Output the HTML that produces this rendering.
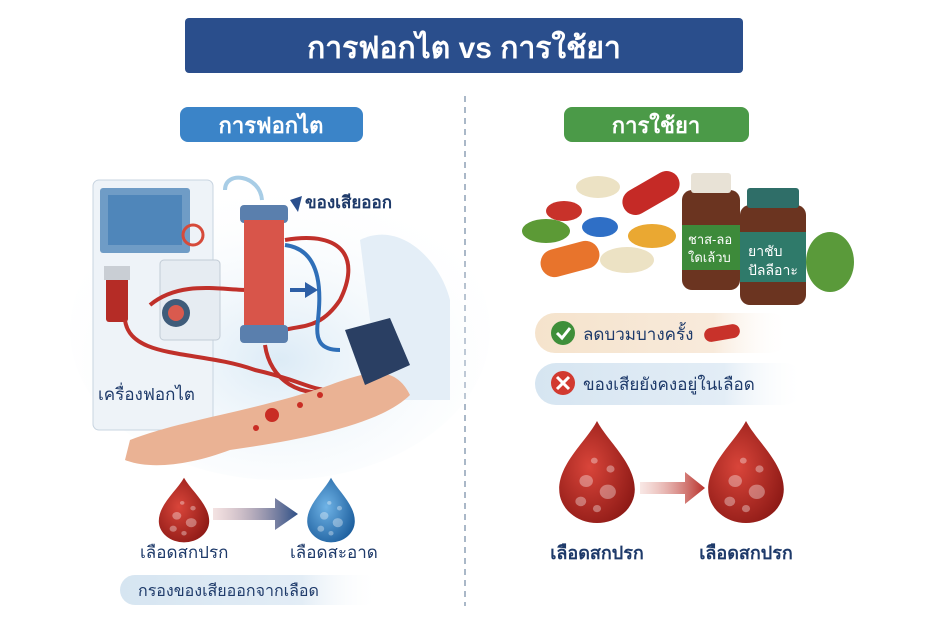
<!DOCTYPE html>
<html><head><meta charset="utf-8"><style>
html,body{margin:0;padding:0;background:#fff;}
svg{display:block;font-family:"Liberation Sans","DejaVu Sans",sans-serif;}
</style></head><body>
<svg width="930" height="620" viewBox="0 0 930 620" xmlns="http://www.w3.org/2000/svg">
<defs>
<radialGradient id="rd" cx="40%" cy="45%" r="65%"><stop offset="0" stop-color="#d9453a"/><stop offset="1" stop-color="#8e1a16"/></radialGradient>
<radialGradient id="bd" cx="40%" cy="45%" r="65%"><stop offset="0" stop-color="#6fb3e6"/><stop offset="1" stop-color="#1d5f9e"/></radialGradient>
<linearGradient id="arL" x1="0" x2="1"><stop offset="0" stop-color="#d9a0a0" stop-opacity=".3"/><stop offset="1" stop-color="#2d4f86"/></linearGradient>
<linearGradient id="arR" x1="0" x2="1"><stop offset="0" stop-color="#e8b0a8" stop-opacity=".3"/><stop offset="1" stop-color="#b8302a"/></linearGradient>
<linearGradient id="beige" x1="0" x2="1"><stop offset="0" stop-color="#f5e3cc"/><stop offset=".7" stop-color="#f8eadb"/><stop offset="1" stop-color="#fff" stop-opacity="0"/></linearGradient>
<linearGradient id="lblue" x1="0" x2="1"><stop offset="0" stop-color="#d6e5f1"/><stop offset=".7" stop-color="#e3edf6"/><stop offset="1" stop-color="#fff" stop-opacity="0"/></linearGradient>
<radialGradient id="bgL" cx="50%" cy="60%" r="60%"><stop offset="0" stop-color="#dcebf6"/><stop offset="1" stop-color="#fff" stop-opacity="0"/></radialGradient>
<path id="drop" d="M0,-45 C8,-28 28,-10 28,12 A28,28 0 0 1 -28,12 C-28,-10 -8,-28 0,-45Z"/>
<g id="bub" fill="#fff" fill-opacity=".35"><circle cx="-8" cy="5" r="5"/><circle cx="8" cy="14" r="6"/><circle cx="-12" cy="22" r="4"/><circle cx="10" cy="-5" r="3"/><circle cx="0" cy="28" r="3"/><circle cx="-2" cy="-12" r="2.5"/></g>
</defs>
<rect width="930" height="620" fill="#fff"/>
<rect x="185" y="18" width="558" height="55" rx="4" fill="#2a4e8c"/>
<text x="464" y="58" font-size="30" font-weight="bold" fill="#fff" text-anchor="middle">การฟอกไต vs การใช้ยา</text>
<line x1="465" y1="96" x2="465" y2="606" stroke="#aab8c8" stroke-width="2" stroke-dasharray="6,5"/>
<rect x="180" y="107" width="183" height="35" rx="8" fill="#3b84c8"/>
<text x="271" y="133" font-size="22" font-weight="bold" fill="#fff" text-anchor="middle">การฟอกไต</text>
<rect x="564" y="107" width="185" height="35" rx="8" fill="#4b9a48"/>
<text x="656" y="133" font-size="22" font-weight="bold" fill="#fff" text-anchor="middle">การใช้ยา</text>
<!-- left illustration -->
<ellipse cx="280" cy="330" rx="210" ry="150" fill="url(#bgL)"/>
<path d="M360 240 C400 220 440 260 450 300 L450 400 L380 400Z" fill="#e4eef7"/>
<rect x="93" y="180" width="120" height="250" rx="6" fill="#eef3f8" stroke="#c8d4e0"/>
<rect x="100" y="188" width="90" height="65" rx="3" fill="#6f9cc6"/>
<rect x="108" y="195" width="74" height="50" fill="#4f86ba"/>
<circle cx="193" cy="235" r="10" fill="none" stroke="#d64a3a" stroke-width="3"/>
<rect x="160" y="260" width="60" height="80" rx="4" fill="#e6ecf2" stroke="#c2ccd6"/>
<circle cx="176" cy="313" r="14" fill="#3f5c7a"/><circle cx="176" cy="313" r="8" fill="#d95a4e"/>
<rect x="106" y="272" width="22" height="50" rx="3" fill="#b52c26"/>
<rect x="104" y="266" width="26" height="14" fill="#c9ced4"/>
<path d="M225 190 C225 170 260 175 262 200" fill="none" stroke="#a8cde6" stroke-width="4"/>
<path d="M125 320 C130 360 200 350 255 370 C300 380 310 390 330 390" fill="none" stroke="#c0302a" stroke-width="4"/>
<path d="M150 305 C180 280 220 290 250 290" fill="none" stroke="#c0302a" stroke-width="4"/>
<path d="M285 240 C345 230 360 260 340 300 C320 330 300 325 285 330" fill="none" stroke="#c0302a" stroke-width="4"/>
<path d="M285 245 C325 250 320 300 318 320 C315 340 320 350 340 350" fill="none" stroke="#2f6fb8" stroke-width="4"/>
<path d="M265 345 C270 380 300 400 340 390" fill="none" stroke="#c0302a" stroke-width="4"/>
<rect x="240" y="205" width="48" height="18" rx="4" fill="#5a7fad"/>
<rect x="244" y="220" width="40" height="108" fill="#d8554a"/>
<rect x="240" y="325" width="48" height="18" rx="4" fill="#5a7fad"/>
<path d="M290 288 L305 288 L305 282 L318 290 L305 298 L305 292 L290 292Z" fill="#2d5fa6"/>
<path d="M130 440 C180 420 260 410 330 385 C370 370 395 365 410 395 C380 425 300 440 230 450 C190 465 150 470 125 460Z" fill="#eab294"/>
<circle cx="272" cy="415" r="7" fill="#c92d24"/><circle cx="300" cy="405" r="3" fill="#c92d24"/><circle cx="320" cy="395" r="3" fill="#c92d24"/><circle cx="256" cy="428" r="3" fill="#c92d24"/>
<path d="M345 330 L390 318 L410 365 L365 385Z" fill="#2a3f63"/>
<path d="M290 200 L302 196 L298 212Z" fill="#2a4e8c"/>
<text x="305" y="208" font-size="17" font-weight="bold" fill="#1e3a6a">ของเสียออก</text>
<text x="98" y="400" font-size="17" fill="#1e3a6a">เครื่องฟอกไต</text>
<!-- left drops -->
<g transform="translate(184,512) scale(0.9,0.76)"><use href="#drop" fill="url(#rd)"/><use href="#bub"/></g>
<path d="M213 508 L275 508 L275 498 L298 514 L275 530 L275 520 L213 520Z" fill="url(#arL)"/>
<g transform="translate(331,512) scale(0.85,0.76)"><use href="#drop" fill="url(#bd)"/><use href="#bub"/></g>
<text x="140" y="558" font-size="17" fill="#1e3a6a">เลือดสกปรก</text>
<text x="290" y="558" font-size="17" fill="#1e3a6a">เลือดสะอาด</text>
<rect x="120" y="575" width="260" height="30" rx="15" fill="url(#lblue)"/>
<text x="138" y="596" font-size="16" fill="#1e3a6a">กรองของเสียออกจากเลือด</text>
<!-- right pills -->
<ellipse cx="546" cy="231" rx="24" ry="12" fill="#5c9a36"/>
<ellipse cx="564" cy="211" rx="18" ry="10" fill="#c8322a"/>
<ellipse cx="600" cy="227" rx="18" ry="10" fill="#2f6fc6"/>
<ellipse cx="598" cy="187" rx="22" ry="11" fill="#ece2c4"/>
<rect x="540" y="245" width="60" height="28" rx="14" transform="rotate(-15 570 259)" fill="#e8742c"/>
<ellipse cx="627" cy="260" rx="27" ry="13" fill="#ece2c4"/>
<ellipse cx="652" cy="236" rx="24" ry="12" fill="#eaa832"/>
<rect x="620" y="180" width="62" height="26" rx="13" transform="rotate(-30 651 193)" fill="#c52a26"/>
<rect x="682" y="190" width="58" height="100" rx="10" fill="#6b3420"/>
<rect x="691" y="173" width="40" height="20" rx="3" fill="#e8e2d6"/>
<rect x="682" y="225" width="58" height="45" fill="#3d8a3a"/>
<text x="688" y="244" font-size="13" fill="#fff">ชาส-ลอ</text>
<text x="688" y="262" font-size="13" fill="#fff">ใดเล้วบ</text>
<rect x="740" y="205" width="66" height="100" rx="10" fill="#6b3420"/>
<rect x="747" y="188" width="52" height="20" rx="3" fill="#2f6e68"/>
<rect x="740" y="232" width="66" height="50" fill="#2f7a6a"/>
<text x="748" y="256" font-size="14" fill="#fff">ยาชับ</text>
<text x="748" y="275" font-size="14" fill="#fff">ปัลลีอาะ</text>
<ellipse cx="830" cy="262" rx="24" ry="30" fill="#5a9a3a"/>
<!-- right rows -->
<rect x="535" y="313" width="255" height="40" rx="20" fill="url(#beige)"/>
<circle cx="563" cy="333" r="12" fill="#3f8f3a"/>
<path d="M557 333 L562 338 L570 328" fill="none" stroke="#fff" stroke-width="3"/>
<text x="583" y="340" font-size="17" fill="#1e3a6a">ลดบวมบางครั้ง</text>
<rect x="704" y="326" width="36" height="14" rx="7" transform="rotate(-10 722 333)" fill="#c8322a"/>
<rect x="535" y="363" width="270" height="42" rx="21" fill="url(#lblue)"/>
<circle cx="563" cy="383" r="12" fill="#d23a30"/>
<path d="M557 377 L569 389 M569 377 L557 389" stroke="#fff" stroke-width="3"/>
<text x="583" y="390" font-size="17" fill="#1e3a6a">ของเสียยังคงอยู่ในเลือด</text>
<!-- right drops -->
<g transform="translate(597,475) scale(1.35,1.2)"><use href="#drop" fill="url(#rd)"/><use href="#bub"/></g>
<path d="M640 482 L685 482 L685 472 L705 488 L685 504 L685 494 L640 494Z" fill="url(#arR)"/>
<g transform="translate(746,475) scale(1.35,1.2)"><use href="#drop" fill="url(#rd)"/><use href="#bub"/></g>
<text x="597" y="559" font-size="18" font-weight="bold" fill="#1e3a6a" text-anchor="middle">เลือดสกปรก</text>
<text x="746" y="559" font-size="18" font-weight="bold" fill="#1e3a6a" text-anchor="middle">เลือดสกปรก</text>
</svg>
</body></html>
